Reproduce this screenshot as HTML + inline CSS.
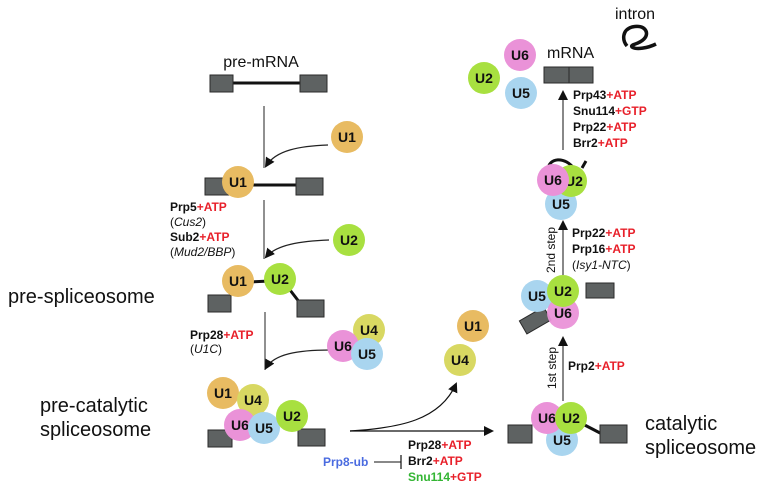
<!DOCTYPE html>
<html><head><meta charset="utf-8"><style>
html,body{margin:0;padding:0;background:#fff;}
svg{display:block;}
text{font-family:"Liberation Sans",Arial,sans-serif;}
.c{font-weight:bold;font-size:14px;text-anchor:middle;fill:#111;}
.l{font-weight:bold;font-size:12px;fill:#111;}
.i{font-size:12px;fill:#111;font-style:italic;}
.big{font-size:20px;fill:#111;}
.r{fill:#e8202a;}
.bx{fill:#5e6262;stroke:#2a2a2a;stroke-width:1;}
</style></head><body>
<svg width="775" height="489" viewBox="0 0 775 489" xmlns="http://www.w3.org/2000/svg">
<defs>
<marker id="a" markerWidth="10" markerHeight="10" refX="8" refY="5" orient="auto" markerUnits="userSpaceOnUse">
<path d="M0,0 L10,5 L0,10 z" fill="#111"/></marker>
</defs>
<!-- pre-mRNA -->
<text x="261" y="67" text-anchor="middle" style="font-size:16px;fill:#111">pre-mRNA</text>
<line x1="232" y1="83" x2="302" y2="83" stroke="#111" stroke-width="3"/>
<rect class="bx" x="210" y="75" width="23" height="17"/>
<rect class="bx" x="300" y="75" width="27" height="17"/>
<line x1="264" y1="106" x2="264" y2="168" stroke="#222" stroke-width="1"/>
<path d="M328,145 C300,146 276,150 266,166" fill="none" stroke="#222" stroke-width="1.2" marker-end="url(#a)"/>
<circle cx="347" cy="137" r="16" fill="#e8bb62"/><text class="c" x="347" y="142">U1</text>
<!-- row 2 -->
<line x1="240" y1="185" x2="300" y2="185" stroke="#111" stroke-width="3"/>
<rect class="bx" x="205" y="178" width="24" height="17"/>
<rect class="bx" x="296" y="178" width="27" height="17"/>
<circle cx="238" cy="182" r="16" fill="#e8bb62"/><text class="c" x="238" y="187">U1</text>
<text class="l" x="170" y="211">Prp5<tspan class="r">+ATP</tspan></text>
<text class="i" x="170" y="226" style="font-style:normal">(<tspan font-style="italic">Cus2</tspan>)</text>
<text class="l" x="170" y="241">Sub2<tspan class="r">+ATP</tspan></text>
<text class="i" x="170" y="256" style="font-style:normal">(<tspan font-style="italic">Mud2/BBP</tspan>)</text>
<line x1="264" y1="200" x2="264" y2="259" stroke="#222" stroke-width="1"/>
<path d="M329,240 C300,241 276,245 266,257" fill="none" stroke="#222" stroke-width="1.2" marker-end="url(#a)"/>
<circle cx="349" cy="240" r="16" fill="#a8e040"/><text class="c" x="349" y="245">U2</text>
<!-- row 3 -->
<text class="big" x="8" y="303">pre-spliceosome</text>
<line x1="250" y1="282" x2="270" y2="281" stroke="#111" stroke-width="3"/>
<line x1="290" y1="290" x2="300" y2="303" stroke="#111" stroke-width="3"/>
<rect class="bx" x="208" y="295" width="23" height="17"/>
<rect class="bx" x="297" y="300" width="27" height="17"/>
<circle cx="238" cy="281" r="16" fill="#e8bb62"/><text class="c" x="238" y="286">U1</text>
<circle cx="280" cy="279" r="16" fill="#a8e040"/><text class="c" x="280" y="284">U2</text>
<text class="l" x="190" y="339">Prp28<tspan class="r">+ATP</tspan></text>
<text class="i" x="190" y="353" style="font-style:normal">(<tspan font-style="italic">U1C</tspan>)</text>
<line x1="265" y1="312" x2="265" y2="370" stroke="#222" stroke-width="1"/>
<path d="M330,350 C298,350 274,354 266,368" fill="none" stroke="#222" stroke-width="1.2" marker-end="url(#a)"/>
<circle cx="369" cy="330" r="16" fill="#d8d862"/><text class="c" x="369" y="335">U4</text>
<circle cx="343" cy="346" r="16" fill="#ea92d8"/><text class="c" x="343" y="351">U6</text>
<circle cx="367" cy="354" r="16" fill="#a9d5ef"/><text class="c" x="367" y="359">U5</text>
<!-- row 4 -->
<text class="big" x="40" y="412">pre-catalytic</text>
<text class="big" x="40" y="436">spliceosome</text>
<rect class="bx" x="208" y="430" width="24" height="17"/>
<rect class="bx" x="298" y="429" width="27" height="17"/>
<circle cx="223" cy="393" r="16" fill="#e8bb62"/><text class="c" x="223" y="398">U1</text>
<circle cx="253" cy="400" r="16" fill="#d8d862"/><text class="c" x="253" y="405">U4</text>
<circle cx="240" cy="425" r="16" fill="#ea92d8"/><text class="c" x="240" y="430">U6</text>
<circle cx="264" cy="428" r="16" fill="#a9d5ef"/><text class="c" x="264" y="433">U5</text>
<circle cx="292" cy="416" r="16" fill="#a8e040"/><text class="c" x="292" y="421">U2</text>
<line x1="350" y1="431" x2="492" y2="431" stroke="#111" stroke-width="1.2" marker-end="url(#a)"/>
<path d="M350,431 C400,428 440,420 456,384" fill="none" stroke="#111" stroke-width="1.2" marker-end="url(#a)"/>
<circle cx="473" cy="326" r="16" fill="#e8bb62"/><text class="c" x="473" y="331">U1</text>
<circle cx="460" cy="360" r="16" fill="#d8d862"/><text class="c" x="460" y="365">U4</text>
<text class="l" x="408" y="449">Prp28<tspan class="r">+ATP</tspan></text>
<text class="l" x="408" y="465">Brr2<tspan class="r">+ATP</tspan></text>
<text class="l" x="408" y="481" style="fill:#33b533">Snu114<tspan class="r">+GTP</tspan></text>
<text class="l" x="323" y="466" style="fill:#4a6be0">Prp8-ub</text>
<line x1="374" y1="462" x2="401" y2="462" stroke="#111" stroke-width="1"/>
<line x1="401" y1="455" x2="401" y2="469" stroke="#111" stroke-width="1.2"/>
<!-- catalytic -->
<line x1="575" y1="420" x2="602" y2="434" stroke="#111" stroke-width="3"/>
<rect class="bx" x="508" y="425" width="24" height="18"/>
<rect class="bx" x="600" y="425" width="27" height="18"/>
<circle cx="562" cy="440" r="16" fill="#a9d5ef"/><text class="c" x="562" y="445">U5</text>
<circle cx="547" cy="418" r="16" fill="#ea92d8"/><text class="c" x="547" y="423">U6</text>
<circle cx="571" cy="418" r="16" fill="#a8e040"/><text class="c" x="571" y="423">U2</text>
<text class="big" x="645" y="430">catalytic</text>
<text class="big" x="645" y="454">spliceosome</text>
<line x1="563" y1="401" x2="563" y2="338" stroke="#111" stroke-width="1" marker-end="url(#a)"/>
<text x="556" y="368" transform="rotate(-90 556 368)" text-anchor="middle" style="font-size:12px;fill:#111">1st step</text>
<text class="l" x="568" y="370">Prp2<tspan class="r">+ATP</tspan></text>
<!-- after 1st step -->
<rect class="bx" x="586" y="283" width="28" height="15"/>
<rect class="bx" x="521" y="313" width="28" height="15" transform="rotate(-30 535 320)"/>
<circle cx="537" cy="296" r="16" fill="#a9d5ef"/><text class="c" x="537" y="301">U5</text>
<circle cx="563" cy="313" r="16" fill="#ea92d8" opacity="0.95"/><text class="c" x="563" y="318">U6</text>
<circle cx="563" cy="291" r="16" fill="#a8e040"/><text class="c" x="563" y="296">U2</text>
<line x1="563" y1="275" x2="563" y2="222" stroke="#111" stroke-width="1" marker-end="url(#a)"/>
<text x="555" y="250" transform="rotate(-90 555 250)" text-anchor="middle" style="font-size:12px;fill:#111">2nd step</text>
<text class="l" x="572" y="237">Prp22<tspan class="r">+ATP</tspan></text>
<text class="l" x="572" y="253">Prp16<tspan class="r">+ATP</tspan></text>
<text class="i" x="572" y="269" style="font-style:normal">(<tspan font-style="italic">Isy1-NTC</tspan>)</text>
<!-- post-catalytic -->
<path d="M548,170 C548,158 565,155 575,170 M582,168 L586,161" fill="none" stroke="#111" stroke-width="3"/>
<circle cx="561" cy="204" r="16" fill="#a9d5ef"/><text class="c" x="561" y="209">U5</text>
<circle cx="571" cy="181" r="16" fill="#a8e040"/><text class="c" x="574" y="186">U2</text>
<circle cx="553" cy="180" r="16" fill="#ea92d8"/><text class="c" x="553" y="185">U6</text>
<line x1="563" y1="150" x2="563" y2="92" stroke="#111" stroke-width="1" marker-end="url(#a)"/>
<text class="l" x="573" y="99">Prp43<tspan class="r">+ATP</tspan></text>
<text class="l" x="573" y="115">Snu114<tspan class="r">+GTP</tspan></text>
<text class="l" x="573" y="131">Prp22<tspan class="r">+ATP</tspan></text>
<text class="l" x="573" y="147">Brr2<tspan class="r">+ATP</tspan></text>
<!-- mRNA -->
<text x="547" y="58" style="font-size:16px;fill:#111">mRNA</text>
<rect class="bx" x="544" y="67" width="25" height="16"/>
<rect class="bx" x="569" y="67" width="24" height="16"/>
<circle cx="520" cy="55" r="16" fill="#ea92d8"/><text class="c" x="520" y="60">U6</text>
<circle cx="484" cy="78" r="16" fill="#a8e040"/><text class="c" x="484" y="83">U2</text>
<circle cx="521" cy="93" r="16" fill="#a9d5ef"/><text class="c" x="521" y="98">U5</text>
<text x="615" y="19" style="font-size:16px;fill:#111">intron</text>
<path d="M627,46 C622,40 622,30 632,27 C645,24 650,33 644,39 C638,45 630,44 632,47 C636,50 648,48 656,44" fill="none" stroke="#111" stroke-width="3.5"/>
</svg>
</body></html>
